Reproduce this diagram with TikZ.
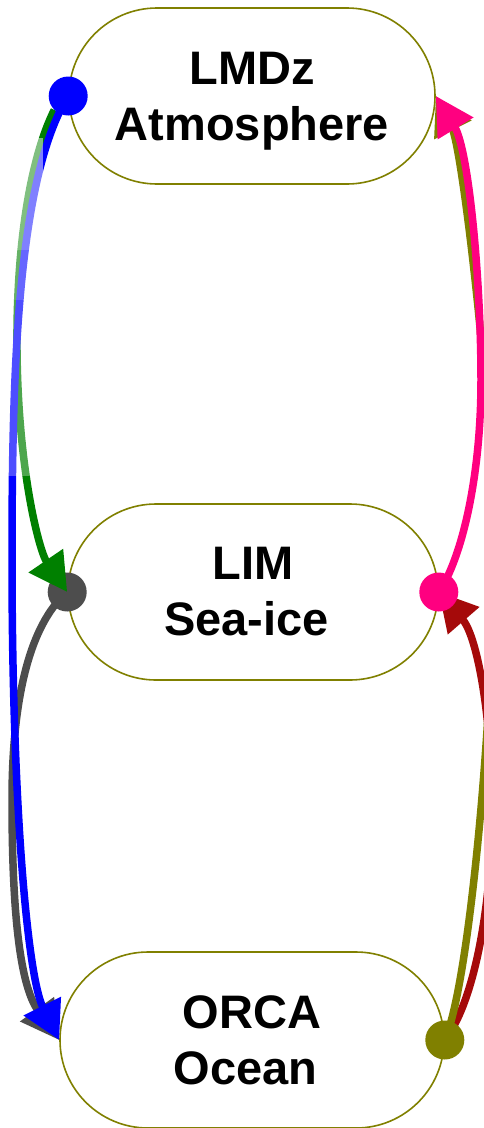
\documentclass[tikz,border=0pt]{standalone}
\usepackage{fontspec}
\setmainfont{Liberation Sans}
\usetikzlibrary{arrows.meta}
\definecolor{frame}{HTML}{808000}
\definecolor{cblue}{HTML}{0000FF}
\definecolor{cgreen}{HTML}{008000}
\definecolor{cgray}{HTML}{4D4D4D}
\definecolor{cpink}{HTML}{FF0080}
\definecolor{colive}{HTML}{808000}
\definecolor{cred}{HTML}{A50A0A}
\pgfdeclarelayer{front}
\pgfdeclarelayer{top}
\pgfsetlayers{main,front,top}
\begin{document}
\begin{tikzpicture}[x=1pt,y=-1pt,
  model/.style={draw=frame, line width=1.6pt, fill=white, rounded corners=88pt,
    minimum height=176pt, inner sep=0pt, align=center,
    font=\fontsize{47}{56}\selectfont\bfseries},
  port/.style={circle, minimum size=39pt, inner sep=0pt},
  link/.style={line width=7.5pt, -{Triangle[length=38pt,width=40pt]}},
  veil/.style={fill=white}
]
\useasboundingbox (0,0) rectangle (483,1128);

% component models
\node[model, minimum width=366pt] (lmdz) at (252,96) {LMDz\\\smash{Atmosphere}};
\node[model, minimum width=370pt] (lim)  at (253,592) {LIM\\Sea-ice\kern0.28em};
\node[model, minimum width=384pt] (orca) at (252,1040) {ORCA\\Ocean\kern0.28em};

% exchange ports
\begin{pgfonlayer}{top}
  \node[port, fill=cblue] (bdot) at (lmdz.west) {};
\end{pgfonlayer}
\begin{pgfonlayer}{front}
  \node[port, fill=colive] (odot) at (orca.east) {};
  \node[port, fill=cpink]  (pdot) at (lim.east) {};
  \node[port, fill=cgray]  (gdot) at (lim.west) {};
\end{pgfonlayer}

% way points of the long couplings
\coordinate (rmid) at (492,810);
\coordinate (omid) at (494,550);
\coordinate (pmid) at (481,380);
\coordinate (gmid) at (12,800);
\coordinate (emid) at (17,350);
\coordinate (bmid) at (12,560);

% couplings on the right
\draw[link, cred] (odot.center) .. controls +(31,-40) and +(0,90) .. (rmid)
  .. controls +(0,-90) and +(39,45) .. (lim.east);
\draw[link, colive] (odot.center) .. controls +(26,-60) and +(0,150) .. (omid)
  .. controls +(0,-130) and +(27,53.5) .. (lmdz.east);
\draw[link, cpink] (pdot.center) .. controls +(22,-32) and +(0,100) .. (pmid)
  .. controls +(0,-100) and +(33,54) .. (lmdz.east);

% couplings on the left
\draw[link, cgray] (gdot.center) .. controls +(-38,33) and +(0,-100) .. (gmid)
  .. controls +(0,100) and +(-41,-57) .. (orca.west);

\begin{pgfonlayer}{front}
  \draw[link, cgreen] (bdot.225) .. controls +(-25,50) and +(-1,-100) .. (emid)
    .. controls +(1,120) and +(-28,-41) .. (lim.west);
  \draw[link, cblue] (bdot.center) .. controls +(-52,84) and +(0,-180) .. (bmid)
    .. controls +(0,240) and +(-32,-64) .. (orca.west);
  % faded stretch along the left margin
  \fill[veil, opacity=0.5] (0,138) rectangle (42.5,250);
  \fill[veil, opacity=0.4] (0,250) rectangle (42.5,300);
  \fill[veil, opacity=0.3] (0,300) rectangle (42.5,476);
\end{pgfonlayer}
\end{tikzpicture}
\end{document}
